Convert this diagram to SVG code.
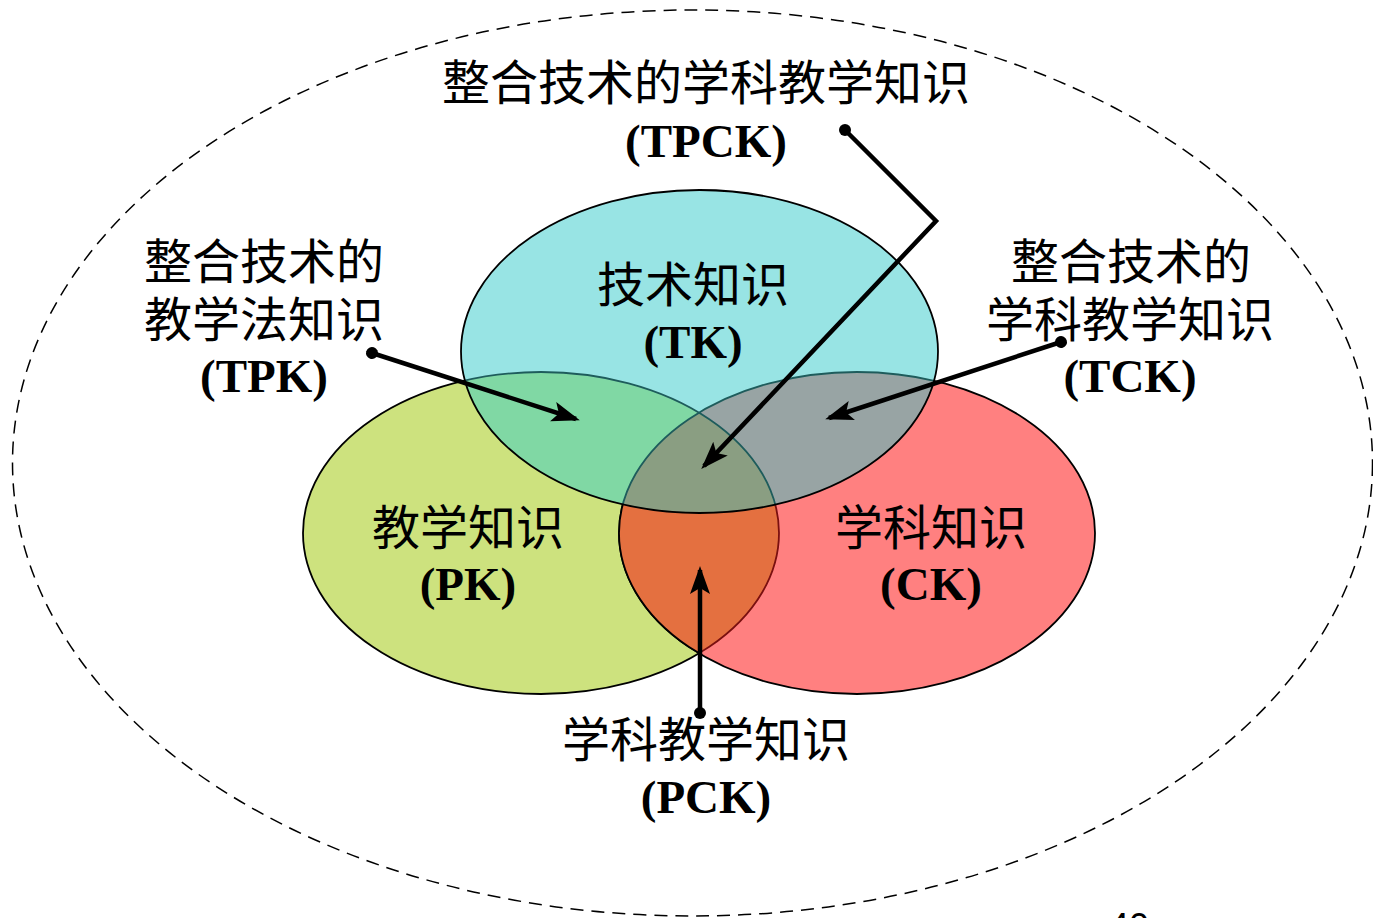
<svg xmlns="http://www.w3.org/2000/svg" width="1373" height="918" viewBox="0 0 1373 918">
<style>
.cj{font-family:"Noto Sans CJK SC","Noto Sans CJK JP",sans-serif;font-size:48px;fill:#000;text-anchor:middle}
.lt{font-family:"Liberation Serif","Times New Roman",serif;font-weight:bold;font-size:47px;fill:#000;text-anchor:middle}
.ol{fill:none;stroke:#000;stroke-width:1.8}
.conn{fill:none;stroke:#000;stroke-width:4.5;stroke-linejoin:miter;marker-start:url(#dot);marker-end:url(#arr)}
</style>
<defs>
<clipPath id="cPK"><ellipse cx="541" cy="533" rx="238" ry="161"/></clipPath>
<clipPath id="cCK"><ellipse cx="857" cy="533" rx="238" ry="161"/></clipPath>
<clipPath id="cTK"><ellipse cx="699.5" cy="351.5" rx="238.5" ry="161.5"/></clipPath>
<marker id="arr" markerUnits="userSpaceOnUse" markerWidth="30" markerHeight="24" viewBox="0 0 30 24" refX="24" refY="12" orient="auto"><path d="M0,2 L28,12 L0,22 L6,12 z" fill="#000"/></marker>
<marker id="dot" markerUnits="userSpaceOnUse" markerWidth="14" markerHeight="14" viewBox="0 0 14 14" refX="7" refY="7" orient="auto"><circle cx="7" cy="7" r="6" fill="#000"/></marker>
</defs>
<rect width="1373" height="918" fill="#fff"/>
<ellipse id="boundary" cx="692.5" cy="463" rx="680" ry="453" fill="none" stroke="#000" stroke-width="1.5" stroke-dasharray="13,8"/>

<g id="node-PK">
<ellipse cx="541" cy="533" rx="238" ry="161" fill="#CDE27E" stroke="#000" stroke-width="1.8"/>
</g>
<g id="node-CK">
<ellipse cx="857" cy="533" rx="238" ry="161" fill="#FF8080" stroke="#000" stroke-width="1.8"/>
</g>
<g id="node-PCK-region">
<ellipse cx="857" cy="533" rx="238" ry="161" fill="#E47040" clip-path="url(#cPK)"/>
<ellipse cx="541" cy="533" rx="238" ry="161" fill="none" stroke="#7A1010" stroke-width="1.8" clip-path="url(#cCK)"/>
<ellipse cx="857" cy="533" rx="238" ry="161" class="ol" clip-path="url(#cPK)"/>
</g>
<g id="node-TK">
<ellipse cx="699.5" cy="351.5" rx="238.5" ry="161.5" fill="#98E4E4"/>
<ellipse cx="699.5" cy="351.5" rx="238.5" ry="161.5" fill="#80D8A4" clip-path="url(#cPK)"/>
<ellipse cx="699.5" cy="351.5" rx="238.5" ry="161.5" fill="#98A4A4" clip-path="url(#cCK)"/>
<g clip-path="url(#cPK)"><ellipse cx="699.5" cy="351.5" rx="238.5" ry="161.5" fill="#8A9E82" clip-path="url(#cCK)"/></g>
<g clip-path="url(#cTK)">
<ellipse cx="541" cy="533" rx="238" ry="161" fill="none" stroke="#1E5C5C" stroke-width="1.8"/>
<ellipse cx="857" cy="533" rx="238" ry="161" fill="none" stroke="#1E5C5C" stroke-width="1.8"/>
</g>
<ellipse cx="699.5" cy="351.5" rx="238.5" ry="161.5" class="ol"/>
<text class="cj" x="693" y="302">技术知识</text>
<text class="lt" x="693" y="358">(TK)</text>
</g>
<g id="label-PK">
<text class="cj" x="468" y="545">教学知识</text>
<text class="lt" x="468" y="600">(PK)</text>
</g>
<g id="label-CK">
<text class="cj" x="931" y="545">学科知识</text>
<text class="lt" x="931" y="600">(CK)</text>
</g>

<g id="connectors">
<polyline class="conn" points="845,130 936,221 704,466"/>
<polyline class="conn" points="372,353 576,419"/>
<polyline class="conn" points="1061,342 829,418"/>
<polyline class="conn" points="700,713 700,570"/>
</g>

<g id="node-TPCK">
<text class="cj" x="706" y="100">整合技术的学科教学知识</text>
<text class="lt" x="706" y="157">(TPCK)</text>
</g>
<g id="node-TPK">
<text class="cj" x="264" y="279">整合技术的</text>
<text class="cj" x="264" y="337">教学法知识</text>
<text class="lt" x="264" y="392">(TPK)</text>
</g>
<g id="node-TCK">
<text class="cj" x="1131" y="279">整合技术的</text>
<text class="cj" x="1130" y="337">学科教学知识</text>
<text class="lt" x="1130" y="392">(TCK)</text>
</g>
<g id="node-PCK">
<text class="cj" x="706" y="757">学科教学知识</text>
<text class="lt" x="706" y="813">(PCK)</text>
</g>
<text x="1109" y="939" style="font-family:'Liberation Sans',Arial,sans-serif;font-size:36px;fill:#000">40</text>
</svg>
